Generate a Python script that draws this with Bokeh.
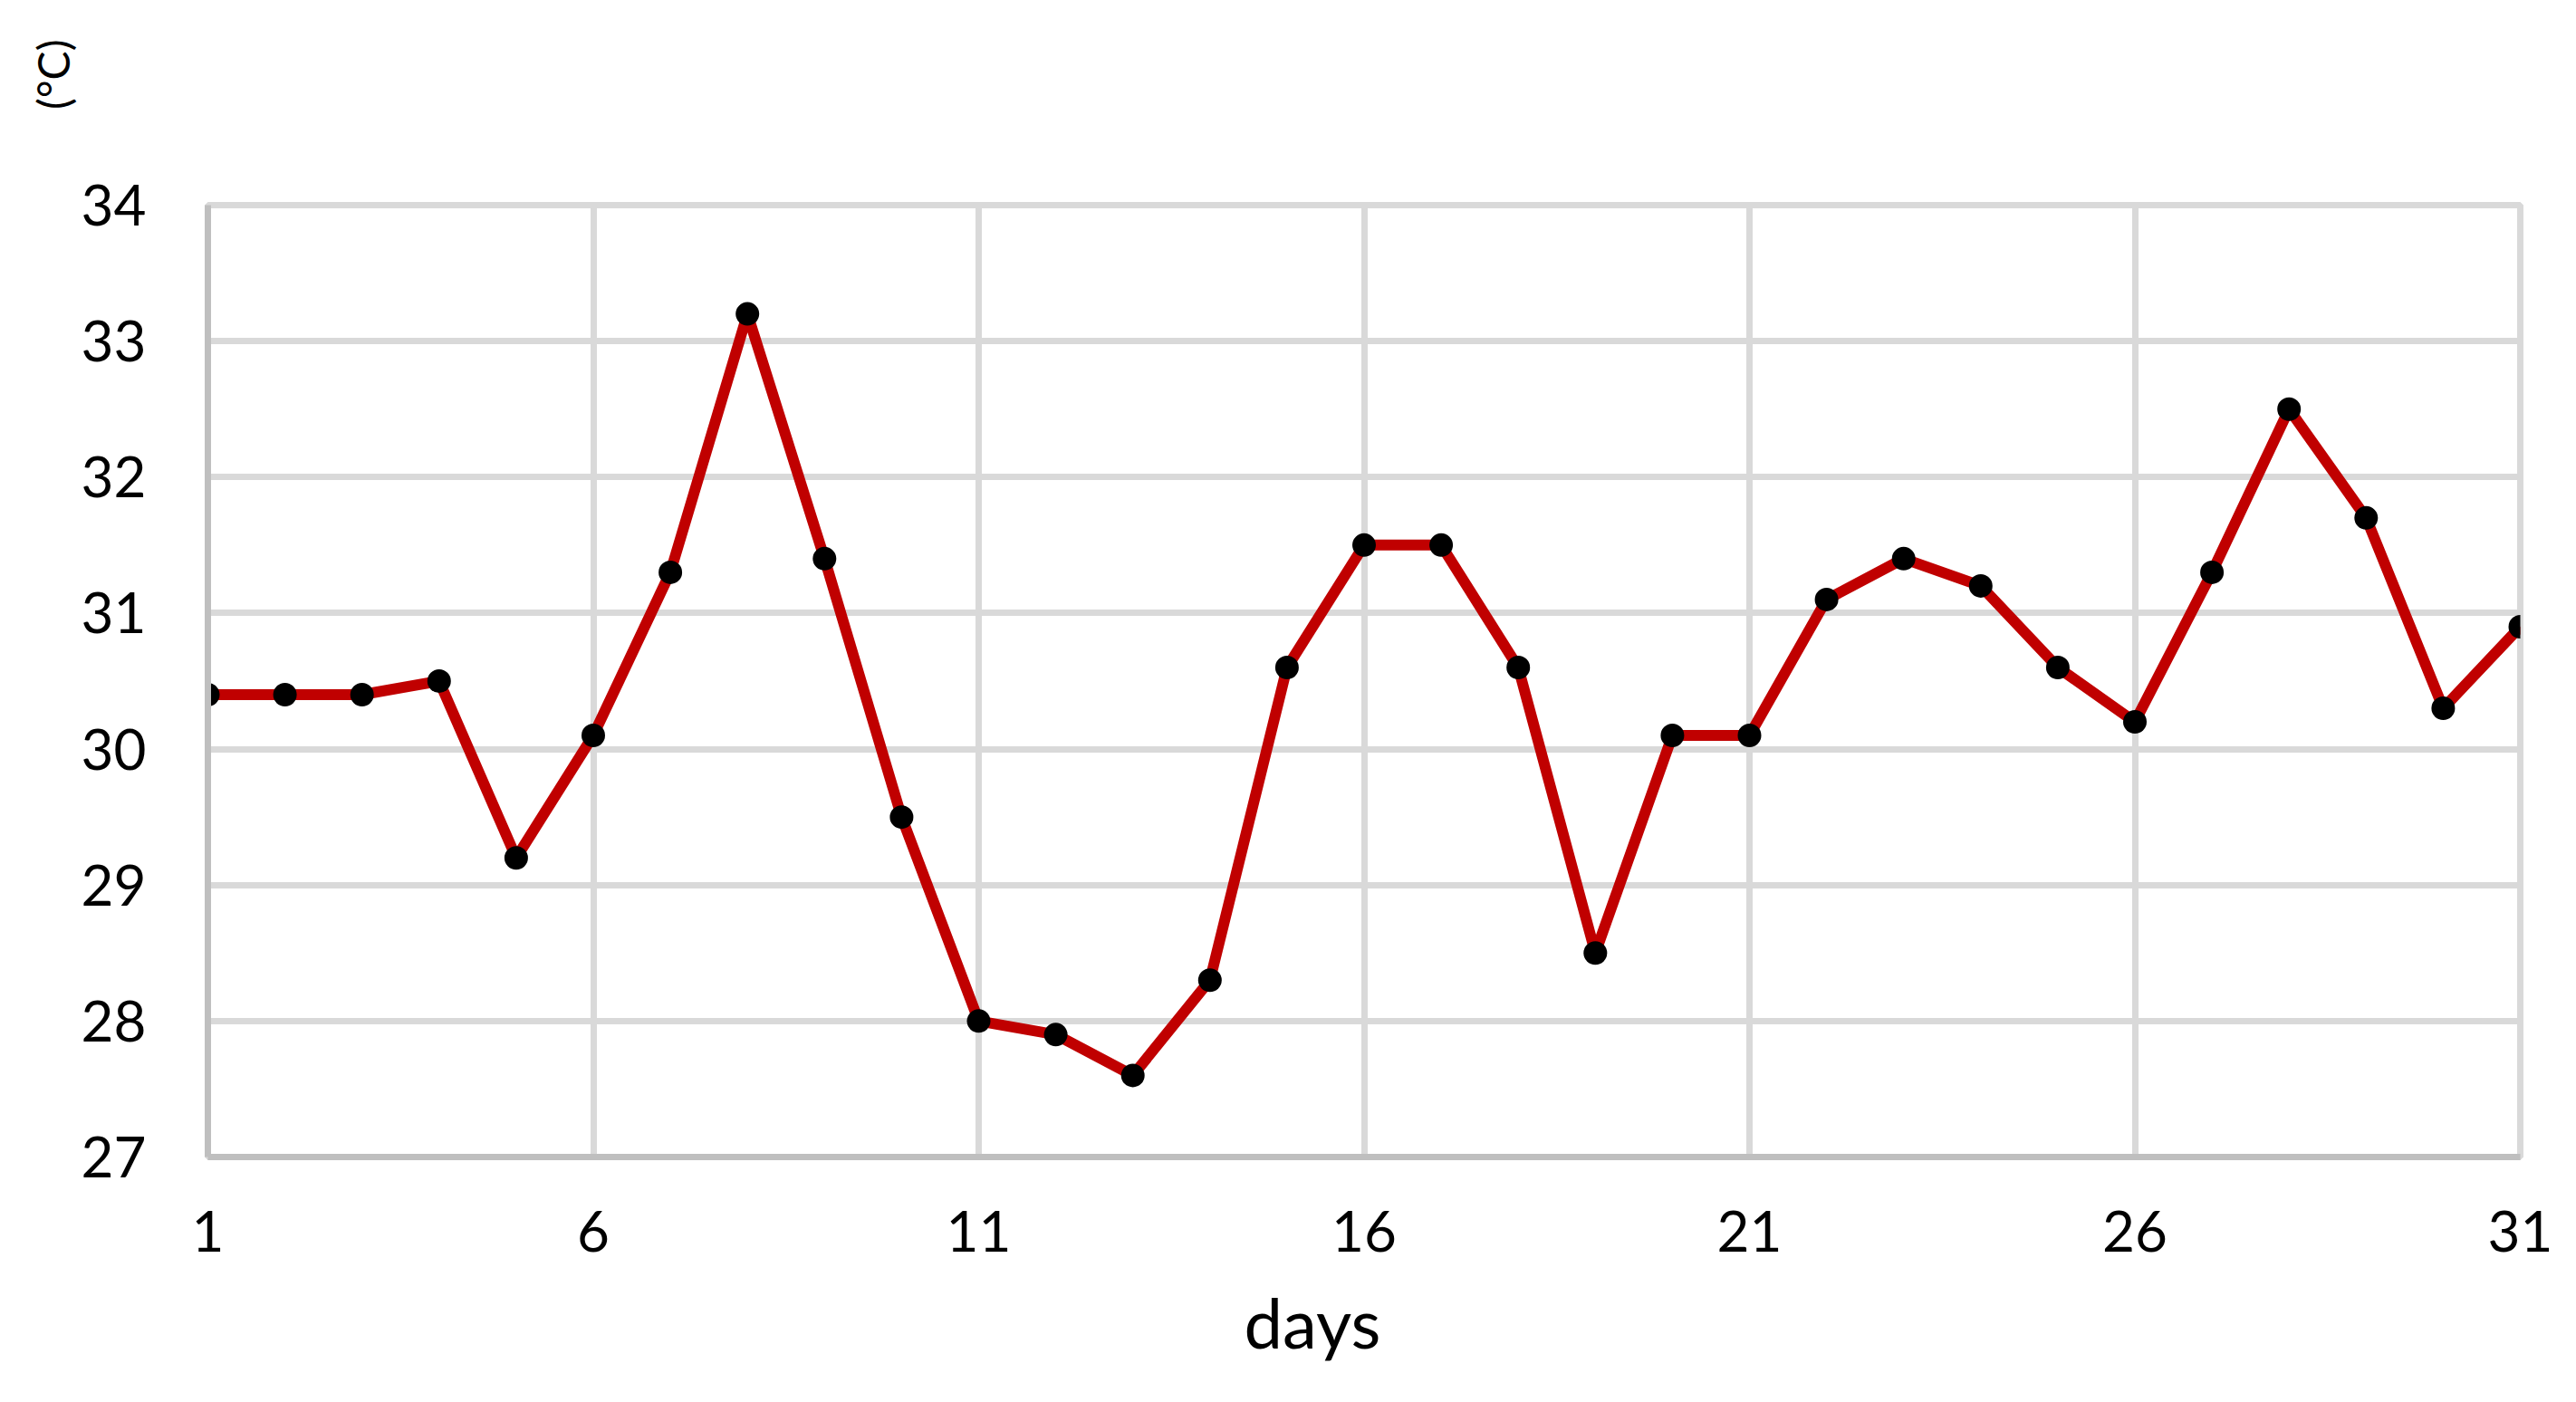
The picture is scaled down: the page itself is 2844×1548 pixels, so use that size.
from bokeh.plotting import figure
from bokeh.models import FixedTicker, Range1d, Title
from bokeh.embed import file_html
from bokeh.resources import INLINE

# ---- data ----
days = list(range(1, 32))
temps = [30.4, 30.4, 30.4, 30.5, 29.2, 30.1, 31.3, 33.2, 31.4, 29.5,
         28.0, 27.9, 27.6, 28.3, 30.6, 31.5, 31.5, 30.6, 28.5, 30.1,
         30.1, 31.1, 31.4, 31.2, 30.6, 30.2, 31.3, 32.5, 31.7, 30.3, 30.9]
x_ticks = [1, 6, 11, 16, 21, 26, 31]
y_ticks = [27, 28, 29, 30, 31, 32, 33, 34]
x_title = "days"
y_title = "(°C)"

FONT = "Lato"

p = figure(width=2828, height=1532, output_backend="svg", toolbar_location=None,
           x_range=Range1d(1, 31), y_range=Range1d(27, 34),
           min_border_left=229, min_border_right=46,
           min_border_top=226, min_border_bottom=254)
p.background_fill_color = "white"
p.border_fill_color = "white"
p.outline_line_color = "#D9D9D9"
p.outline_line_width = 7

# grids
p.xgrid.ticker = FixedTicker(ticks=x_ticks)
p.ygrid.ticker = FixedTicker(ticks=y_ticks)
for g in (p.xgrid, p.ygrid):
    g.grid_line_color = "#D9D9D9"
    g.grid_line_width = 7

# axes
p.xaxis.ticker = FixedTicker(ticks=x_ticks)
p.yaxis.ticker = FixedTicker(ticks=y_ticks)
for ax in (p.xaxis, p.yaxis):
    ax.axis_line_color = "#BFBFBF"
    ax.axis_line_width = 7
    ax.major_tick_line_color = None
    ax.minor_tick_line_color = None
    ax.major_tick_out = 0
    ax.major_tick_in = 0
    ax.major_label_text_font = FONT
    ax.major_label_text_font_size = "62px"
    ax.major_label_text_color = "black"
p.yaxis.major_label_standoff = 68
p.xaxis.major_label_standoff = 59

# data
p.line(days, temps, line_color="#C00000", line_width=12, line_join="round")
p.scatter(days, temps, size=26, fill_color="black", line_color=None)

# titles
p.add_layout(Title(text=x_title, align="left", offset=1144, standoff=55,
                   text_font=FONT, text_font_size="76px", text_color="black",
                   text_font_style="normal"), "below")
p.add_layout(Title(text=y_title, align="right", offset=-183, standoff=0,
                   text_font=FONT, text_font_size="48px", text_color="black",
                   text_font_style="normal"), "left")

open("out.html", "w").write(file_html(p, INLINE))
